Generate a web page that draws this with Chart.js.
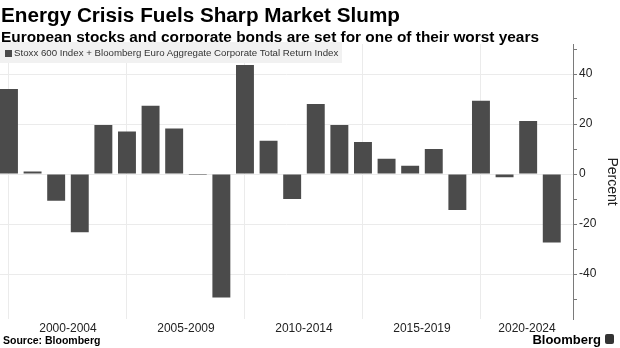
<!DOCTYPE html>
<html>
<head>
<meta charset="utf-8">
<script src="https://cdn.jsdelivr.net/npm/chart.js@4"></script>
<style>
  html, body { margin: 0; padding: 0; background: #fff; }
  #wrap { position: relative; width: 620px; height: 348px; overflow: hidden; font-family: "Liberation Sans", Arial, sans-serif; color: #000; }
  #slump { position: absolute; left: 0; top: 0; }
  .title { position: absolute; left: 1px; top: 3px; font-size: 20.7px; font-weight: bold; white-space: nowrap; }
  .subtitle { position: absolute; left: 1px; top: 28px; font-size: 15.4px; font-weight: bold; white-space: nowrap; }
  .legend { position: absolute; left: 0; top: 42px; width: 342px; height: 21px; background: #f1f1f1; font-size: 9.7px; color: #333; line-height: 21px; white-space: nowrap; }
  .legend i { display: inline-block; width: 7px; height: 7px; background: #4b4b4b; margin: 0 2px 0 5px; vertical-align: -0.5px; }
  .source { position: absolute; left: 3px; top: 334px; font-size: 10.5px; font-weight: bold; }
  .logo { position: absolute; right: 19px; top: 332px; font-size: 13px; font-weight: bold; }
  .mark { position: absolute; left: 605px; top: 334px; width: 9px; height: 10px; background: #333; border-radius: 2px; }
</style>
</head>
<body>
<div id="wrap">
  <canvas id="slump" width="620" height="348"></canvas>
  <div class="title">Energy Crisis Fuels Sharp Market Slump</div>
  <div class="subtitle">European stocks and corporate bonds are set for one of their worst years</div>
  <div class="legend"><i></i>Stoxx 600 Index + Bloomberg Euro Aggregate Corporate Total Return Index</div>
  <div class="source">Source: Bloomberg</div>
  <div class="logo">Bloomberg</div>
  <div class="mark"></div>
</div>
<script>
// yearly total return, percent (1999 .. 2022)
const years = ['1999', '2000', '2001', '2002', '2003', '2004', '2005', '2006', '2007', '2008', '2009', '2010',
  '2011', '2012', '2013', '2014', '2015', '2016', '2017', '2018', '2019', '2020', '2021', '2022'];
const returns = [34, 1, -10.7, -23.3, 19.6, 17, 27.3, 18.2, -0.4, -49.4, 43.6, 13.3,
  -10, 28, 19.6, 12.8, 6.1, 3.3, 10, -14.4, 29.3, -1.3, 21.2, -27.4];
const periodLabels = ['2000-2004', '2005-2009', '2010-2014', '2015-2019', '2020-2024'];
const yTicks = [-50, -40, -30, -20, -10, 0, 10, 20, 30, 40, 50];

const xMin = -0.38, xMax = 23.9;
const barColor = '#4b4b4b';
const gridColor = '#ebebeb';
const axisColor = '#7a7a7a';

new Chart(document.getElementById('slump'), {
  type: 'bar',
  data: {
    labels: years,
    datasets: [{
      label: 'Stoxx 600 Index + Bloomberg Euro Aggregate Corporate Total Return Index',
      data: returns.map((v, i) => ({ x: i, y: v })),
      backgroundColor: barColor,
      borderWidth: 0,
      barPercentage: 0.76,
      categoryPercentage: 1,
      xAxisID: 'x',
      yAxisID: 'y'
    }]
  },
  options: {
    responsive: false,
    animation: false,
    layout: { padding: { top: 44, left: 0, right: 0, bottom: 0 } },
    plugins: { legend: { display: false }, tooltip: { enabled: false } },
    scales: {
      x: {
        type: 'linear',
        position: 'bottom',
        offset: false,
        min: xMin,
        max: xMax,
        afterBuildTicks: (scale) => {
          scale.ticks = periodLabels.map((l, i) => ({ value: (i * 5 + Math.min(i * 5 + 5, xMax)) / 2 }));
        },
        afterFit: (scale) => { scale.height = 29; },
        grid: { display: false, drawTicks: false, offset: false },
        border: { display: false },
        ticks: {
          autoSkip: false,
          maxRotation: 0,
          padding: 2,
          color: '#222',
          font: { family: 'Liberation Sans', size: 12 },
          callback: (v, i) => periodLabels[i]
        }
      },
      xg: {
        type: 'linear',
        position: 'top',
        offset: false,
        min: xMin,
        max: xMax,
        afterBuildTicks: (scale) => {
          scale.ticks = [0, 5, 10, 15, 20].map(v => ({ value: v }));
        },
        afterFit: (scale) => { scale.height = 0; },
        grid: { color: gridColor, drawTicks: false, offset: false },
        border: { display: false },
        ticks: { display: false }
      },
      y: {
        type: 'linear',
        position: 'right',
        min: -58,
        max: 52,
        afterBuildTicks: (scale) => {
          scale.ticks = yTicks.map(v => ({ value: v }));
        },
        afterFit: (scale) => { scale.width = 47; },
        grid: {
          color: (ctx) => (ctx.tick && ctx.tick.value % 20 === 0) ? gridColor : 'rgba(0,0,0,0)',
          tickColor: axisColor,
          tickLength: 4
        },
        border: { color: axisColor },
        ticks: {
          padding: 2,
          color: '#222',
          font: { family: 'Liberation Sans', size: 12 },
          callback: (v) => v % 20 === 0 ? v : ''
        },
        title: {
          display: true,
          text: 'Percent',
          color: '#222',
          font: { family: 'Liberation Sans', size: 14 },
          padding: { top: 0, bottom: 2 }
        }
      }
    }
  }
});
</script>
</body>
</html>
